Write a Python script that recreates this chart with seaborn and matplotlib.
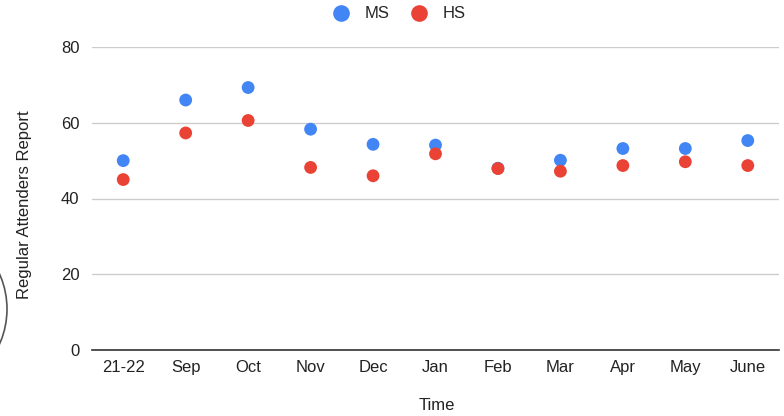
import matplotlib
matplotlib.use("Agg")
import matplotlib.pyplot as plt
import pandas as pd
import seaborn as sns
from matplotlib.patches import Circle

# Data
months = ["21-22", "Sep", "Oct", "Nov", "Dec", "Jan", "Feb", "Mar", "Apr", "May", "June"]
ms_values = [50, 66, 69.3, 58.3, 54.3, 54.1, 48, 50.1, 53.2, 53.2, 55.3]
hs_values = [45, 57.3, 60.6, 48.2, 46, 51.8, 47.9, 47.2, 48.7, 49.7, 48.7]
groups = ["MS", "HS"]
colors = {"MS": "#4285F4", "HS": "#EA4335"}

df = pd.DataFrame({
    "Time": months * 2,
    "value": ms_values + hs_values,
    "group": ["MS"] * len(months) + ["HS"] * len(months),
})

sns.set_theme(style="white")
plt.rcParams["font.family"] = ["Liberation Sans", "DejaVu Sans"]

fig = plt.figure(figsize=(7.84, 4.16), dpi=100)
ax = fig.add_axes([92 / 784, 1 - 350 / 416, (779 - 92) / 784, (350 - 47) / 416])

sns.scatterplot(
    data=df, x="Time", y="value", hue="group", hue_order=groups,
    palette=colors, s=85, edgecolor="none", linewidth=0, ax=ax, legend=False,
    zorder=3,
)

ax.set_xlim(-0.5, len(months) - 0.5)
ax.set_ylim(0, 80)
ax.set_yticks([0, 20, 40, 60, 80])
ax.yaxis.grid(True, color="#cccccc", linewidth=1)
ax.xaxis.grid(False)
for side in ["top", "right", "left"]:
    ax.spines[side].set_visible(False)
ax.spines["bottom"].set_color("#333333")
ax.spines["bottom"].set_linewidth(1.2)
ax.spines["bottom"].set_zorder(4)
ax.tick_params(axis="both", length=0, labelsize=12, colors="#222222")
ax.tick_params(axis="y", pad=9)
ax.tick_params(axis="x", pad=7)

ax.set_xlabel("")
ax.set_ylabel("")
fig.text(437 / 784, 1 - 406 / 416, "Time", ha="center", va="center", fontsize=12, color="#222222")
fig.text(25 / 784, 1 - 205 / 416, "Regular Attenders Report", rotation=90,
         ha="center", va="center", fontsize=12, color="#222222")

# Legend at top
handles = [plt.Line2D([], [], marker="o", linestyle="", markersize=12,
                      markerfacecolor=colors[g], markeredgecolor="none") for g in groups]
fig.legend(handles, groups, loc="center", bbox_to_anchor=(395 / 784, 1 - 14 / 416),
           ncol=2, frameon=False, fontsize=12, handletextpad=0.4, columnspacing=0.8)

# Partial grey circle on the left edge
fig.patches.append(Circle((-79, 416 - 309), 86, transform=None, fill=False,
                          edgecolor="#555555", linewidth=1.2))

fig.savefig("out.png", dpi=100)
